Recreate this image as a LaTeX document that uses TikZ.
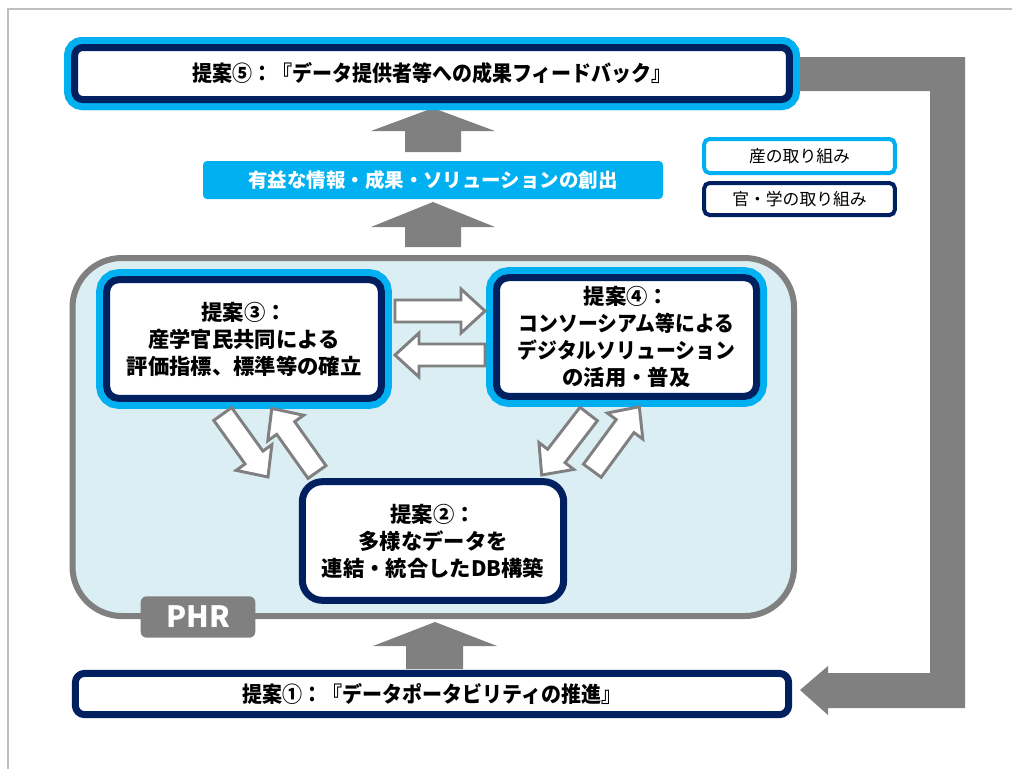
\documentclass[tikz,border=0pt]{standalone}
\usepackage{fontspec}
\setmainfont{Noto Sans CJK JP}
\definecolor{cy}{HTML}{00B0F0}
\definecolor{nv}{HTML}{002060}
\definecolor{gr}{HTML}{808080}
\definecolor{lb}{HTML}{DAEEF3}
\definecolor{fr}{HTML}{C0C0C0}
\tikzset{
  ha/.style={draw=gr, fill=white, line width=2.2pt, line join=miter},
  sangaku/.style={draw=nv, fill=white, line width=5.25pt, rounded corners=9pt,
     preaction={draw=cy, line width=15.75pt, rounded corners=9pt},
     minimum width=#1, inner sep=0pt, align=center},
  kangaku/.style={draw=nv, fill=white, line width=5.25pt, rounded corners=15pt,
     inner sep=0pt, align=center},
  bigtxt/.style={font=\bfseries\fontsize{16}{20.25}\selectfont},
  legtxt/.style={font=\fontsize{12.6}{15}\selectfont}
}
\newcommand\hollowarrow[4]{%
  \pgfmathsetmacro\haang{atan2(#2-#4,#3-#1)}%
  \pgfmathsetmacro\halen{veclen(#3-#1,#4-#2)}%
  \begin{scope}[shift={(#1,#2)},rotate=\haang]
    \draw[ha] (0,-11) -- (\halen-24,-11) -- (\halen-24,-22) -- (\halen,0)
      -- (\halen-24,22) -- (\halen-24,11) -- (0,11) -- cycle;
  \end{scope}}
\begin{document}
\begin{tikzpicture}[x=0.75pt,y=-0.75pt]
\useasboundingbox (0,0) rectangle (1012,769);
\fill[white] (0,0) rectangle (1012,769);
% frame
\draw[fr, line width=1.2pt] (8,769) -- (8,9) -- (1012,9);

% PHR container
\draw[gr, line width=4.5pt, fill=lb, rounded corners=37pt] (72.5,258) rectangle (794,616);
\node[fill=gr, rounded corners=4.5pt, minimum width=86pt, minimum height=31pt, inner sep=0pt,
      text=white, font=\bfseries\fontsize{22}{24}\selectfont] (phr) at (198,617) {PHR};

% feedback arrow
\fill[gr] (795,57) -- (965,57) -- (965,708) -- (828,708) -- (828,715) -- (800,690)
  -- (828,666) -- (828,673) -- (930,673) -- (930,91) -- (795,91) -- cycle;

% solid up arrows
\fill[gr] (405,152) -- (405,131) -- (371,131) -- (433,108) -- (495,131) -- (461,131) -- (461,152) -- cycle;
\fill[gr] (405,247) -- (405,227) -- (371,227) -- (433,202) -- (495,227) -- (461,227) -- (461,247) -- cycle;
\fill[gr] (406,669) -- (406,646) -- (373,646) -- (435,622) -- (497,646) -- (463,646) -- (463,669) -- cycle;

% box 5
\node[sangaku=536pt, minimum height=39pt, rounded corners=6pt,
      preaction={draw=cy, line width=15.75pt, rounded corners=6pt}] (p5) at (432,73.5)
  {\scalebox{0.92}[1]{\bfseries\fontsize{16.3}{20}\selectfont 提案⑤：『データ提供者等への成果フィードバック』}};

% banner
\node[fill=cy, rounded corners=3pt, minimum width=345pt, minimum height=28.5pt, inner sep=0pt,
      text=white, font=\bfseries\fontsize{14.6}{18}\selectfont] (ban) at (433,180)
  {有益な情報・成果・ソリューションの創出};

% legend
\node[draw=cy, line width=3pt, rounded corners=4pt, minimum width=143pt, minimum height=25.5pt,
      inner sep=0pt, legtxt] (leg1) at (799.5,156) {産の取り組み};
\node[draw=nv, line width=3pt, rounded corners=4pt, minimum width=143pt, minimum height=24pt,
      inner sep=0pt, legtxt] (leg2) at (799.5,199) {官・学の取り組み};

% box 3
\node[sangaku=206pt, minimum height=89pt, bigtxt] (p3) at (244,339)
  {提案③：\\産学官民共同による\\評価指標、標準等の確立};
% box 4
\node[sangaku=195pt, minimum height=89pt, bigtxt] (p4) at (626.5,337)
  {提案④：\\\scalebox{0.93}[1]{コンソーシアム等による}\\\scalebox{0.93}[1]{デジタルソリューション}\\の活用・普及};
% box 2
\node[kangaku, minimum width=196pt, minimum height=89pt, bigtxt] (p2) at (433,541)
  {提案②：\\多様なデータを\\連結・統合したDB構築};
% box 1
\node[kangaku, rounded corners=7pt, minimum width=535pt, minimum height=31pt] (p1) at (432,694)
  {\scalebox{0.92}[1]{\bfseries\fontsize{16.3}{20}\selectfont 提案①：『データポータビリティの推進』}};

% hollow arrows
\hollowarrow{395}{311}{485}{311}
\hollowarrow{485}{355}{395}{355}
\hollowarrow{222.7}{414}{268}{477}
\hollowarrow{317}{472}{271.7}{408.3}
\hollowarrow{588.7}{414}{541.7}{475}
\hollowarrow{592.3}{470.7}{639.3}{406.7}
\end{tikzpicture}
\end{document}
